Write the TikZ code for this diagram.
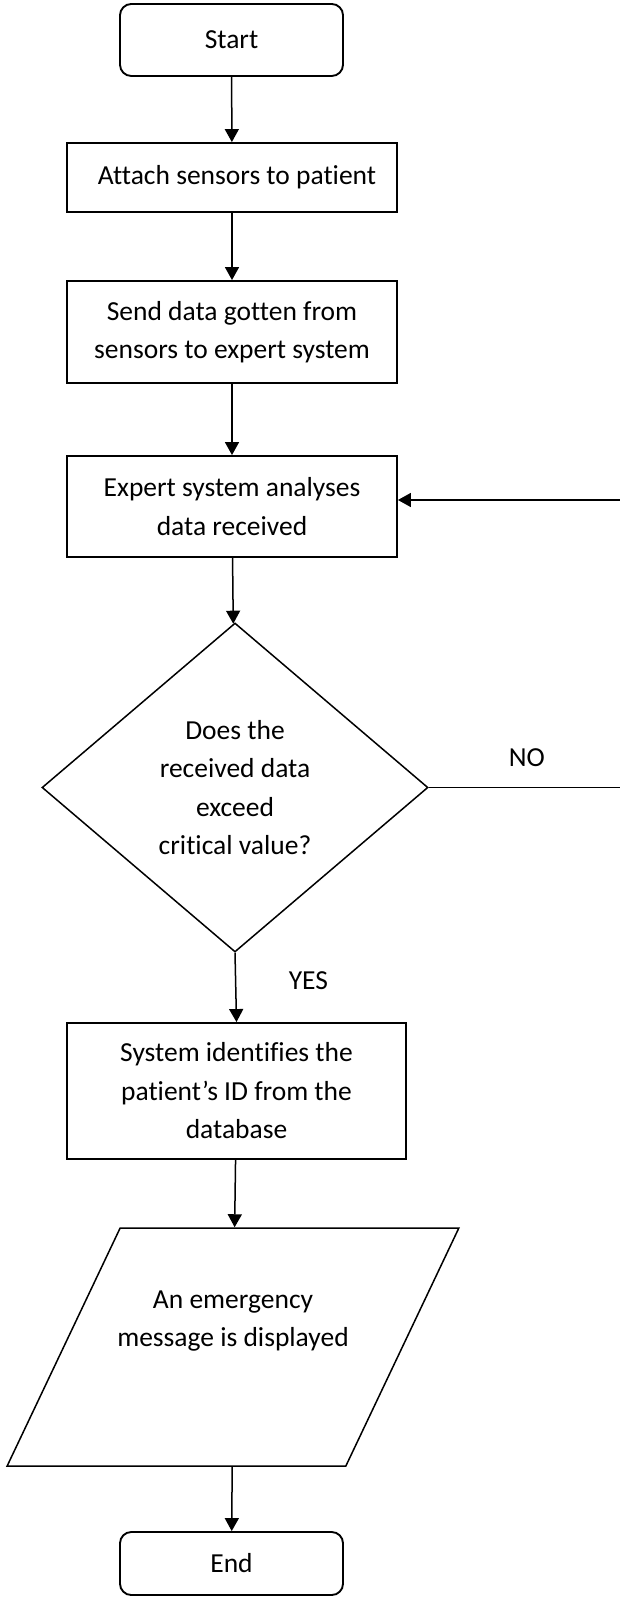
\documentclass[tikz,border=0pt]{standalone}
\usepackage{fontspec}
\setmainfont{Carlito}[Ligatures={NoCommon}]
\usetikzlibrary{arrows.meta, shapes.geometric, positioning}

\begin{document}
\begin{tikzpicture}[
    x=0.4pt, y=-0.4pt,
    font=\fontsize{11pt}{15.4pt}\selectfont,
    terminal/.style={
        rectangle, rounded corners=4.5pt, draw, line width=0.75pt,
        minimum width=89.2pt, align=center
    },
    proc/.style={
        rectangle, draw, line width=0.75pt,
        minimum width=132pt, align=center
    },
    decision/.style={
        diamond, draw, semithick, inner sep=0pt,
        minimum width=154.4pt, minimum height=131.6pt,
        align=center
    },
    io/.style={
        trapezium, trapezium left angle=63.4, trapezium right angle=116.6,
        trapezium stretches=true, draw, semithick,
        minimum width=180.8pt, minimum height=95.2pt
    },
    >={Triangle[length=5.2pt, width=5.6pt]}, semithick,
    lbl/.style={inner sep=0pt}
]
\useasboundingbox (0,0) rectangle (619,1597);

\node[terminal, minimum height=28.8pt] (start) at (231.5, 40) {Start};
\node[proc, minimum height=27.6pt] (attach) at (232, 177.5) {\hspace{4pt}Attach sensors to patient};
\node[proc, minimum height=40.8pt] (send) at (232, 332) {Send data gotten from\\sensors to expert system};
\node[proc, minimum height=40.4pt] (expert) at (232, 506.5) {Expert system analyses\\data received};
\node[decision] (decide) at (235, 787.5) {Does the\\received data\\exceed\\critical value?};
\node[proc, minimum width=135.6pt, minimum height=54.4pt] (identify) at (236.5, 1091) {System identifies the\\patient’s ID from the\\database};
\node[io, label={[align=center, yshift=10.4pt]center:An emergency\\message is displayed}] (display) at (233, 1347) {};
\node[terminal, minimum height=25.2pt] (end) at (231.5, 1563.5) {End};

% loop back runs just outside the right edge
\coordinate (loopx) at (625, 0);

\draw[->] (start) -- (attach);
\draw[->] (attach) -- (send);
\draw[->] (send) -- (expert);
\draw[->] (expert) -- (decide);
\draw[->] (decide.south) -- node[lbl, pos=0.4, right=21pt]{YES} (identify.north);
\draw[->] (decide.east) -- node[lbl, above=8pt]{NO} (decide.east -| loopx) |- ([yshift=2.6pt]expert.east);
\draw[->] (identify) -- (display);
\draw[->] (display) -- (end);

\end{tikzpicture}
\end{document}
